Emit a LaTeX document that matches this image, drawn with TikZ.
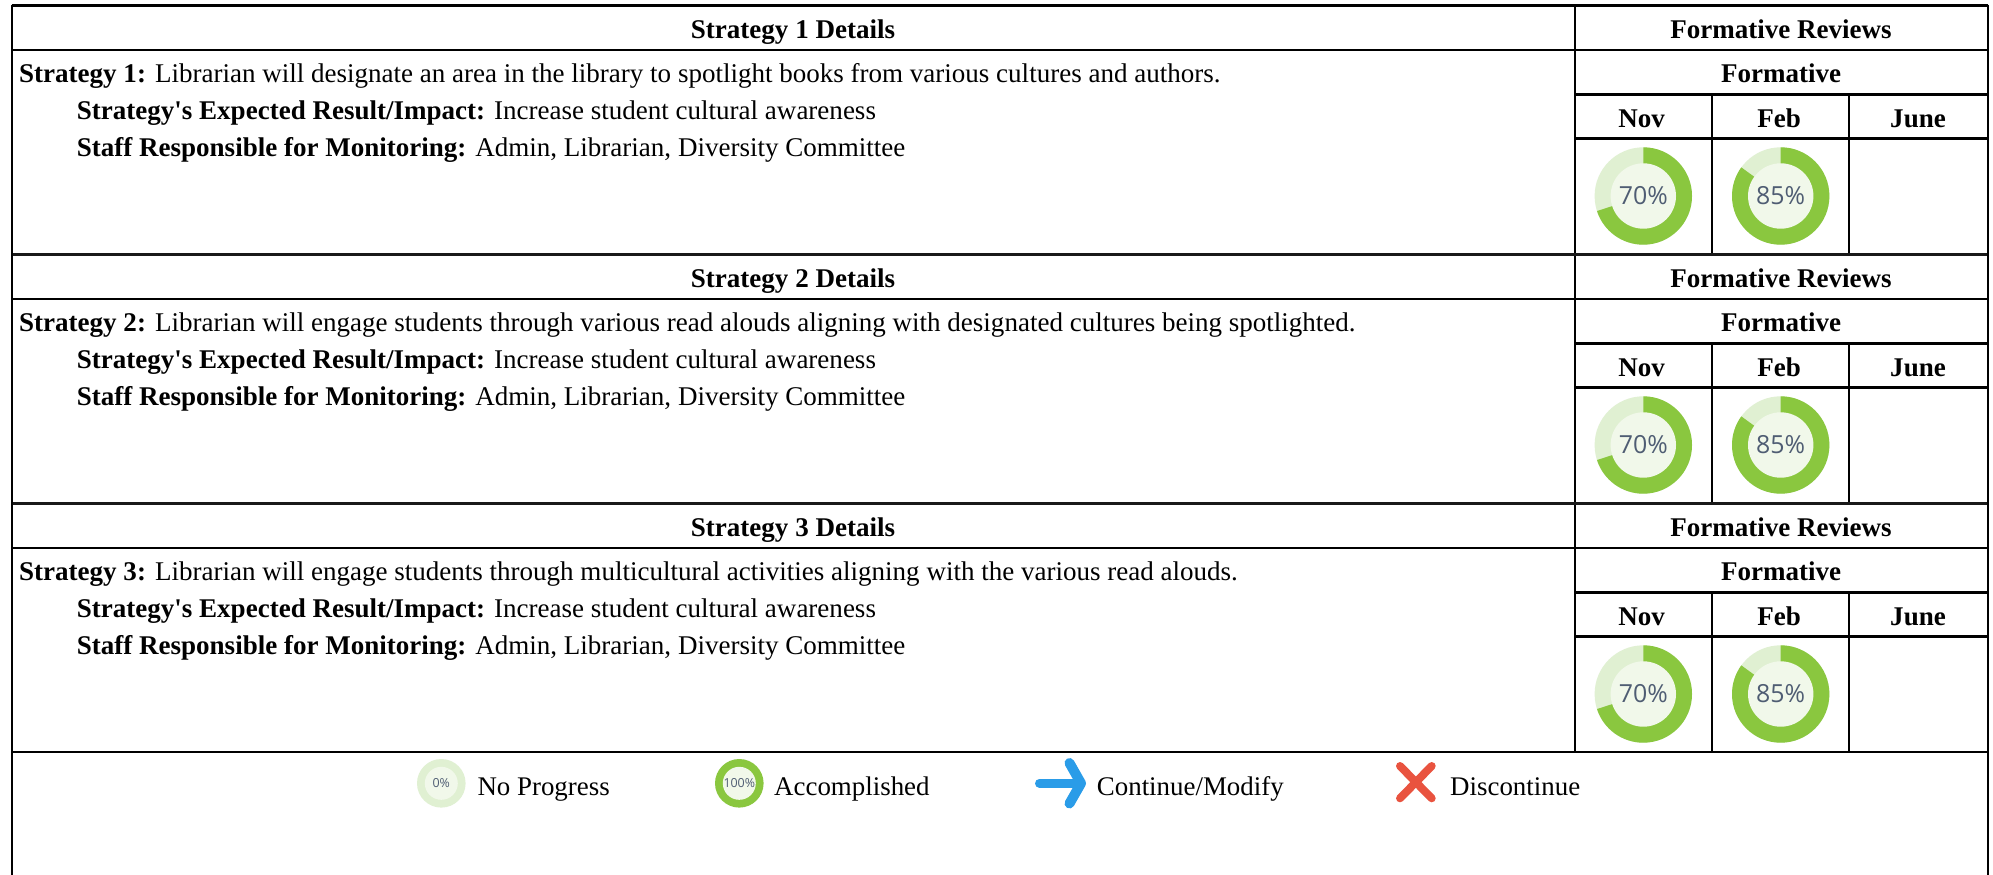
\documentclass[tikz,border=0pt]{standalone}
\usepackage{fontspec}
\setmainfont{Liberation Serif}[Ligatures=TeXOff]
\newfontfamily\pctfont{Open Sans}
\definecolor{ringgreen}{HTML}{8AC73F}
\definecolor{ringlight}{HTML}{E0F0D2}
\definecolor{ringin}{HTML}{F1F8EA}
\definecolor{pcttext}{HTML}{4F5D73}
\definecolor{arrowblue}{HTML}{2A9CE8}
\definecolor{crossred}{HTML}{E9533F}
\tikzset{
  body/.style={anchor=base west,inner sep=0pt,font=\fontsize{27.12}{27.12}\selectfont},
  head/.style={anchor=base,inner sep=0pt,font=\fontsize{27.12}{27.12}\selectfont\bfseries},
  legendtext/.style={anchor=base west,inner sep=0pt,font=\fontsize{27}{27}\selectfont},
  rule/.style={line width=2.2pt,black},
  heavyrule/.style={line width=4pt,black!90},
  pcttxt/.style={inner sep=0pt,text=pcttext,font=\fontsize{25}{25}\pctfont},
  pctsmall/.style={inner sep=0pt,text=pcttext,font=\fontsize{12.5}{12.5}\pctfont},
}
\newcommand{\donut}[6]{% x,y,delta,label,style,name
  \begin{scope}[shift={(#1,#2)},x=1bp,y=1bp]
    \fill[ringlight] (0,0) circle[radius=48.7];
    \fill[ringgreen] (0,0) -- (0,48.7) arc[start angle=90,delta angle=#3,radius=48.7] -- cycle;
    \fill[ringin] (0,0) circle[radius=32.7];
    \node[#5] (#6) at (0,0) {#4};
  \end{scope}}
\newcommand{\smalldonut}[6]{%
  \begin{scope}[shift={(#1,#2)},x=1bp,y=1bp]
    \fill[#3] (0,0) circle[radius=24.3];
    \fill[ringin] (0,0) circle[radius=16.5];
    \node[#5] (#6) at (0,0) {#4};
  \end{scope}}
\begin{document}
\begin{tikzpicture}[x=1bp,y=-1bp]
\useasboundingbox (0,0) rectangle (1993,875);
\fill[white] (0,0) rectangle (1993,875);
\foreach \n/\t/\main in {%
  1/5.5/{Librarian will designate an area in the library to spotlight books from various cultures and authors.},%
  2/254.5/{Librarian will engage students through various read alouds aligning with designated cultures being spotlighted.},%
  3/503.5/{Librarian will engage students through multicultural activities aligning with the various read alouds.}}{
  \draw[rule] (11.7,\t+44.5) -- (1988.3,\t+44.5);
  \draw[rule] (1575,\t+89) -- (1988.3,\t+89);
  \draw[rule] (1575,\t+133) -- (1988.3,\t+133);
  \draw[rule] (1575,\t) -- (1575,\t+248.5);
  \draw[rule] (1712,\t+89) -- (1712,\t+248.5);
  \draw[rule] (1849.3,\t+89) -- (1849.3,\t+248.5);
  \node[head] (title\n) at (793,\t+33.2) {Strategy \n\ Details};
  \node[head] (rev\n) at (1781,\t+33.2) {Formative Reviews};
  \node[head] (form\n) at (1781,\t+77.2) {Formative};
  \node[head] (nov\n) at (1641.7,\t+122) {Nov};
  \node[head] (feb\n) at (1779,\t+122) {Feb};
  \node[head] (june\n) at (1918,\t+122) {June};
  \node[body] (main\n) at (19,\t+77.2) {\textbf{Strategy \n:} \main};
  \node[body] (exp\n) at (76.7,\t+113.8) {\textbf{Strategy's Expected Result/Impact:} Increase student cultural awareness};
  \node[body] (staff\n) at (76.7,\t+150.5) {\textbf{Staff Responsible for Monitoring:} Admin, Librarian, Diversity Committee};
  \donut{1643.3}{\t+190.5}{-252}{70\%}{pcttxt}{a\n}
  \donut{1780.7}{\t+190.5}{-306}{85\%}{pcttxt}{b\n}
}
\draw[heavyrule] (11.7,254.5) -- (1988.3,254.5);
\draw[heavyrule] (11.7,503.5) -- (1988.3,503.5);
\draw[rule] (11.7,752) -- (1988.3,752);
\draw[rule] (11.7,5.5) -- (1988.3,5.5);
\draw[rule] (11.7,4.5) -- (11.7,875);
\draw[rule] (1988.3,4.5) -- (1988.3,875);
\smalldonut{441.3}{783.3}{ringlight}{0\%}{pctsmall}{lega}
\smalldonut{739.3}{783.3}{ringgreen}{100\%}{pctsmall}{legb}
\node[legendtext] (np) at (477.3,795.5) {No Progress};
\node[legendtext] (ac) at (774,795.5) {Accomplished};
\node[legendtext] (cm) at (1096.7,795.5) {Continue/Modify};
\node[legendtext] (dc) at (1450,795.5) {Discontinue};
\draw[arrowblue,line width=9pt,line cap=round] (1039.5,783.3) -- (1078,783.3);
\draw[arrowblue,line width=10pt,line cap=round,line join=round] (1069.5,763) -- (1081,783.3) -- (1069.5,803.5);
\draw[crossred,line width=8pt,line cap=round] (1400,766) -- (1431.7,798.3);
\draw[crossred,line width=8pt,line cap=round] (1431.7,766) -- (1400,798.3);
\end{tikzpicture}
\end{document}
